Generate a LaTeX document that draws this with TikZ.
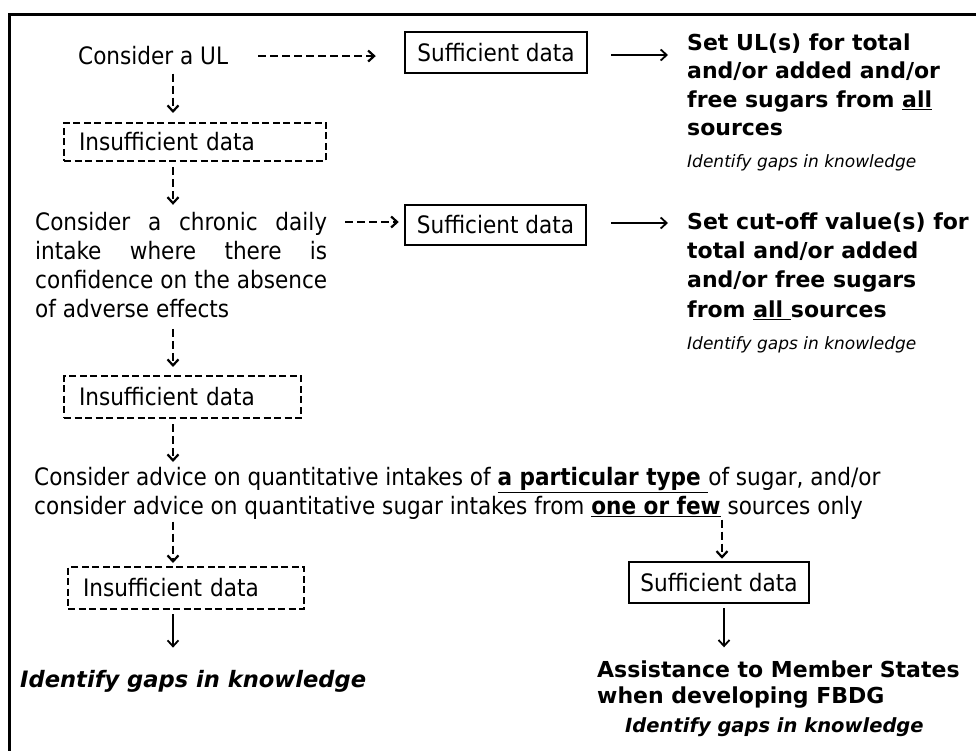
\documentclass[tikz,border=0pt]{standalone}
\usepackage{fontspec}
\usetikzlibrary{arrows.meta}
\setmainfont{DejaVu Sans}
\IfFontExistsTF{DejaVu Sans Condensed}{\newfontfamily\cond{DejaVu Sans Condensed}}{\newfontfamily\cond{DejaVu Sans}[FakeStretch=0.9]}
\newcommand\fs[2]{\fontsize{#1}{#2}\selectfont}
\tikzset{
 txt/.style={inner sep=0pt, font=\cond\fs{24}{29}},
 ibox/.style={draw, line width=2pt, dash pattern=on 7pt off 3.5pt, inner xsep=15pt, inner ysep=0pt, align=left, font=\cond\fs{24}{29}},
 sbox/.style={draw, line width=2.5pt, inner sep=0pt, font=\cond\fs{24}{29}},
 dar/.style={line width=2.2pt, dash pattern=on 8pt off 4pt, -{Straight Barb[length=6pt,width=11pt]}},
 sar/.style={line width=1.8pt, -{Straight Barb[length=6pt,width=11pt]}},
 res/.style={inner sep=0pt, align=left, font=\fs{22}{28.5}\bfseries},
 gap/.style={inner sep=0pt, font=\fs{17}{20}\itshape},
}
\begin{document}
\begin{tikzpicture}[x=1pt,y=-1pt]
\fill[white] (0,0) rectangle (976,751);
\useasboundingbox (0,0) rectangle (976,751);
\draw[line width=3pt] (976,15) -- (9,15) -- (9,751);
\coordinate (cx) at (173,0);
% row 1
\node[txt, anchor=base west] (ul) at (78,65) {Consider a UL};
\node[sbox, minimum width=182, minimum height=41] (s1) at (496,52.5) {Sufficient data};
\node[res, anchor=north west] (r1) at (687,33.3) {Set UL(s) for total\\and/or added and/or\\free sugars from \underline{all}\\sources};
\node[gap, anchor=base west] (g1) at (687,168) {Identify gaps in knowledge};
\node[ibox, text width=232, minimum height=38, anchor=north west] (i1) at (63,122) {Insufficient data};
% row 2
\node[txt, anchor=north west, align=left] (ch) at (35,211.8) {\makebox[292pt][s]{Consider a chronic daily}\\\makebox[292pt][s]{intake where there is}\\\makebox[292pt][s]{confidence on the absence}\\of adverse effects};
\node[sbox, minimum width=181, minimum height=40] (s2) at (495.5,225) {Sufficient data};
\node[res, anchor=north west, font=\fs{22}{29.3}\bfseries] (r2) at (687,212.3) {Set cut-off value(s) for\\total and/or added\\and/or free sugars\\from \underline{all\ }sources};
\node[gap, anchor=base west] (g2) at (687,349) {Identify gaps in knowledge};
\node[ibox, text width=207, minimum height=42, anchor=north west] (i2) at (63,375) {Insufficient data};
% row 3
\node[txt, anchor=north west, align=left] (adv) at (34,467) {Consider advice on quantitative intakes of {\bfseries\underline{a particular type\ }}of sugar, and/or\\consider advice on quantitative sugar intakes from {\bfseries\underline{one or few}} sources only};
\node[ibox, text width=206, minimum height=42, anchor=north west] (i3) at (67,566) {Insufficient data};
\node[sbox, minimum width=180, minimum height=41] (s3) at (719,582.5) {Sufficient data};
\node[inner sep=0pt, font=\fs{22.6}{26}\bfseries\itshape, anchor=base west] (k1) at (20,687) {Identify gaps in knowledge};
\node[res, anchor=north west, font=\fs{22}{26}\bfseries] (fb) at (597,660.3) {Assistance to Member States\\when developing FBDG};
\node[inner sep=0pt, font=\fs{19.5}{22}\bfseries\itshape, anchor=base west] (k2) at (625,732) {Identify gaps in knowledge};
% connectors
\draw[dar, shorten <=30pt, shorten >=28pt] (ul.east) -- (ul.east -| s1.west);
\draw[sar, shorten <=23pt, shorten >=19pt] ([yshift=-2.5pt]s1.east) -- ([yshift=-2.5pt]s1.east -| r1.west);
\draw[dar, shorten <=8pt, shorten >=9pt] (ul.south -| cx) -- (i1.north -| cx);
\draw[dar, shorten <=5pt, shorten >=7pt] (i1.south -| cx) -- (ch.north -| cx);
\draw[dar, shorten <=18pt, shorten >=5pt] ([yshift=3pt]s2.west -| ch.east) -- ([yshift=3pt]s2.west);
\draw[sar, shorten <=24pt, shorten >=19pt] ([yshift=2pt]s2.east) -- ([yshift=2pt]s2.east -| r2.west);
\draw[dar, shorten <=11pt, shorten >=8pt] (ch.south -| cx) -- (i2.north -| cx);
\draw[dar, shorten <=5pt, shorten >=5pt] (i2.south -| cx) -- (adv.north -| cx);
\draw[dar, shorten <=2pt, shorten >=3pt] (adv.south -| cx) -- (i3.north -| cx);
\draw[dar, shorten >=2pt] ([xshift=3pt]adv.south -| s3.north) -- ([xshift=3pt]s3.north);
\draw[sar, shorten <=4pt, shorten >=22pt] (i3.south -| cx) -- (k1.north -| cx);
\draw[sar, shorten <=4pt, shorten >=13pt] ([xshift=5pt]s3.south) -- ([xshift=5pt]s3.south |- fb.north);
\end{tikzpicture}
\end{document}
